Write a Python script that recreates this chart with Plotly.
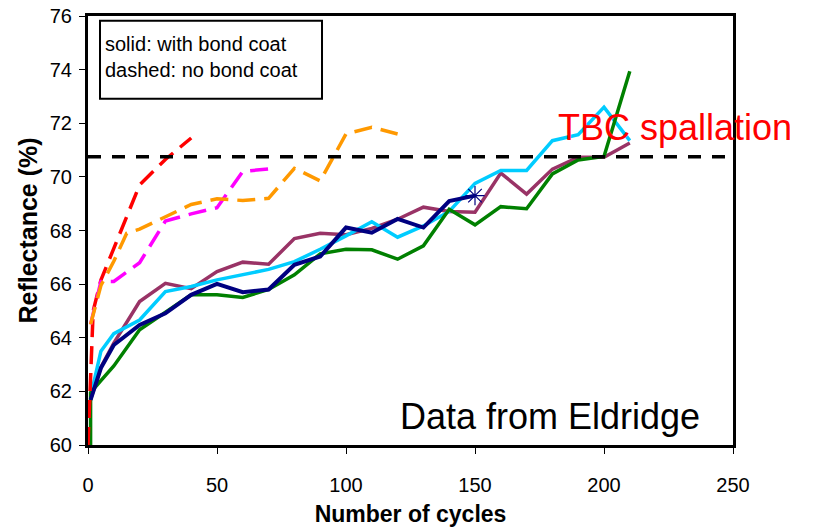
import plotly.graph_objects as go

# ---- data ----
cycles_solid = [1, 5, 10, 20, 30, 40, 50, 60, 70, 80, 90, 100, 110, 120, 130, 140, 150,
                160, 170, 180, 190, 200, 210]

green_x = [1, 1, 5, 10, 20, 30, 40, 50, 60, 70, 80, 90, 100, 110, 120, 130, 140, 150,
           160, 170, 180, 190, 200, 210]
green_y = [60.0, 61.95, 62.4, 62.95, 64.3, 64.95, 65.6, 65.6, 65.5, 65.8, 66.35, 67.13, 67.3,
           67.28, 66.93, 67.43, 68.79, 68.21, 68.89, 68.81, 70.11, 70.63, 70.76, 73.94]

cyan_y = [61.8, 63.5, 64.15, 64.66, 65.72, 65.91, 66.16, 66.34, 66.55, 66.84, 67.3, 67.8,
          68.33, 67.75, 68.17, 68.71, 69.76, 70.24, 70.24, 71.35, 71.57, 72.6, 71.35]

purple_y = [61.7, 62.9, 63.8, 65.35, 66.03, 65.83, 66.47, 66.82, 66.74, 67.7, 67.9, 67.84,
            68.08, 68.42, 68.87, 68.71, 68.68, 70.14, 69.36, 70.29, 70.73, 70.73, 71.26]

navy_x = [1, 5, 10, 20, 30, 40, 50, 60, 70, 80, 90, 100, 110, 120, 130, 140, 150]
navy_y = [61.68, 62.87, 63.73, 64.48, 64.91, 65.6, 66.01, 65.7, 65.8, 66.72, 67.03, 68.11,
          67.92, 68.43, 68.11, 69.1, 69.3]

red_x = [0, 2, 5, 10, 20, 30, 40]
red_y = [60.0, 65.0, 66.15, 67.35, 69.7, 70.65, 71.45]

magenta_x = [1, 5, 10, 20, 30, 40, 50, 60, 70]
magenta_y = [64.5, 66.1, 66.1, 66.8, 68.35, 68.62, 68.85, 70.2, 70.3]

orange_x = [1, 5, 10, 15, 20, 30, 40, 50, 60, 70, 80, 90, 100, 110, 120]
orange_y = [64.5, 65.95, 66.85, 67.9, 68.05, 68.5, 68.97, 69.18, 69.12, 69.2, 70.32, 69.85,
            71.6, 71.85, 71.6]

spallation_level = 70.75
x_ticks = [0, 50, 100, 150, 200, 250]
y_ticks = [60, 62, 64, 66, 68, 70, 72, 74, 76]

FONT = "Liberation Sans, Arial, sans-serif"

fig = go.Figure()

solid_w = 3.5
fig.add_trace(go.Scatter(x=cycles_solid, y=purple_y, mode="lines",
                         line=dict(color="#993366", width=solid_w)))
fig.add_trace(go.Scatter(x=cycles_solid, y=cyan_y, mode="lines",
                         line=dict(color="#00CCFF", width=solid_w)))
fig.add_trace(go.Scatter(x=green_x, y=green_y, mode="lines",
                         line=dict(color="#008000", width=solid_w)))
fig.add_trace(go.Scatter(x=navy_x, y=navy_y, mode="lines",
                         line=dict(color="#000080", width=4)))
fig.add_trace(go.Scatter(x=[navy_x[-1]], y=[navy_y[-1]], mode="markers",
                         marker=dict(symbol="asterisk-open", size=16, color="#000080",
                                     line=dict(color="#000080", width=1.2))))

dash_pat = "18px,9px"
fig.add_trace(go.Scatter(x=red_x, y=red_y, mode="lines",
                         line=dict(color="#FF0000", width=3.5, dash=dash_pat)))
fig.add_trace(go.Scatter(x=magenta_x, y=magenta_y, mode="lines",
                         line=dict(color="#FF00FF", width=3.5, dash=dash_pat)))
fig.add_trace(go.Scatter(x=orange_x, y=orange_y, mode="lines",
                         line=dict(color="#FF9900", width=3.5, dash=dash_pat)))

# spallation threshold line
fig.add_shape(type="line", xref="paper", x0=0, x1=1, yref="y",
              y0=spallation_level, y1=spallation_level,
              line=dict(color="black", width=3.5, dash="13px,11px"))

# note box
fig.add_shape(type="rect", xref="x", yref="y", x0=4.65, x1=90.7, y0=72.91, y1=75.82,
              line=dict(color="black", width=2), fillcolor="rgba(0,0,0,0)")
fig.add_annotation(x=6.0, y=74.48, xref="x", yref="y", xanchor="left", yanchor="middle",
                   text="solid: with bond coat<br>dashed: no bond coat", align="left",
                   showarrow=False, font=dict(family=FONT, size=20, color="black"))

fig.add_annotation(x=181.5, y=71.83, xref="x", yref="y", xanchor="left", yanchor="middle",
                   text="TBC spallation", showarrow=False,
                   font=dict(family=FONT, size=36, color="#FF0000"))
fig.add_annotation(x=120.0, y=61.06, xref="x", yref="y", xanchor="left", yanchor="middle",
                   text="Data from Eldridge", showarrow=False,
                   font=dict(family=FONT, size=36, color="black"))

axis_common = dict(showgrid=False, zeroline=False, showline=True, linecolor="black",
                   linewidth=3, mirror=True, ticks="outside", ticklen=6, tickwidth=1,
                   tickcolor="black", automargin=False,
                   tickfont=dict(family=FONT, size=20, color="black"))

fig.update_xaxes(range=[0, 250], tickvals=x_ticks, ticklabelstandoff=14,
                 title=dict(text="<b>Number of cycles</b>", standoff=11,
                            font=dict(family=FONT, size=23, color="black")),
                 **axis_common)
fig.update_yaxes(range=[60, 76], tickvals=y_ticks, ticklabelstandoff=3,
                 title=dict(text="<b>Reflectance (%)</b>", standoff=6,
                            font=dict(family=FONT, size=25, color="black")),
                 **axis_common)

fig.update_layout(width=813, height=530, showlegend=False,
                  margin=dict(l=88, r=80, t=16, b=85),
                  paper_bgcolor="white", plot_bgcolor="white",
                  font=dict(family=FONT))

fig.write_html("out.html")
